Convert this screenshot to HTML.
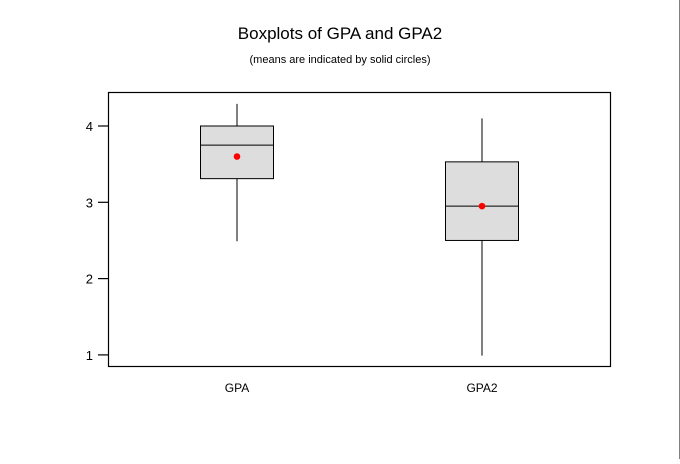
<!DOCTYPE html>
<html><head><meta charset="utf-8"><style>
body{margin:0;background:#fff;width:680px;height:459px;overflow:hidden}
svg text{font-family:"Liberation Sans",Arial,sans-serif;fill:#000}
</style></head><body>
<svg id="c" width="680" height="459">
<line x1="679.5" y1="0" x2="679.5" y2="459" stroke="#808080" stroke-width="1"/>
<text x="340" y="39" font-size="17" text-anchor="middle">Boxplots of GPA and GPA2</text>
<text x="340" y="63" font-size="11" text-anchor="middle">(means are indicated by solid circles)</text>
<rect x="108.5" y="92.5" width="502" height="274" fill="none" stroke="#000" stroke-width="1.2"/>
<g id="g"></g>
</svg>
<script>
const categories=["GPA","GPA2"];
const whiskerLow=[2.49,0.99];
const q1=[3.31,2.50];
const median=[3.75,2.95];
const q3=[4.0,3.53];
const whiskerHigh=[4.29,4.10];
const means=[3.60,2.95];
const yTicks=[1,2,3,4];
const ns="http://www.w3.org/2000/svg";
const g=document.getElementById('g');
function y(v){return 202.3-(v-3)*76.3;}
function x(i){return 237+i*245;}
function mk(t,a){const e=document.createElementNS(ns,t);for(const k in a)e.setAttribute(k,a[k]);g.appendChild(e);return e;}
yTicks.forEach(v=>{
 const l=mk('line',{x1:98,x2:108.5,y1:y(v),y2:y(v),stroke:'#000','stroke-width':1.2});
 
 
 const t=mk('text',{x:93,y:y(v)+5,'font-size':13,'text-anchor':'end'});t.textContent=v;
 
 
});
categories.forEach((c,i)=>{
 const cx=x(i),hw=36.5;
 const w=mk('line',{x1:cx,x2:cx,y1:y(whiskerHigh[i]),y2:y(whiskerLow[i]),stroke:'#000','stroke-width':1});
 
 
 const b=mk('rect',{x:cx-hw,y:y(q3[i]),width:hw*2,height:y(q1[i])-y(q3[i]),fill:'#dddddd',stroke:'#000','stroke-width':1});
 
 
 const m=mk('line',{x1:cx-hw,x2:cx+hw,y1:y(median[i]),y2:y(median[i]),stroke:'#000','stroke-width':1});
 
 
 const d=mk('circle',{cx:cx,cy:y(means[i]),r:3.3,fill:'#ff0000'});
 
 
 const t=mk('text',{x:cx,y:392,'font-size':12,'text-anchor':'middle'});t.textContent=c;
 
 
});
</script>
</body></html>
